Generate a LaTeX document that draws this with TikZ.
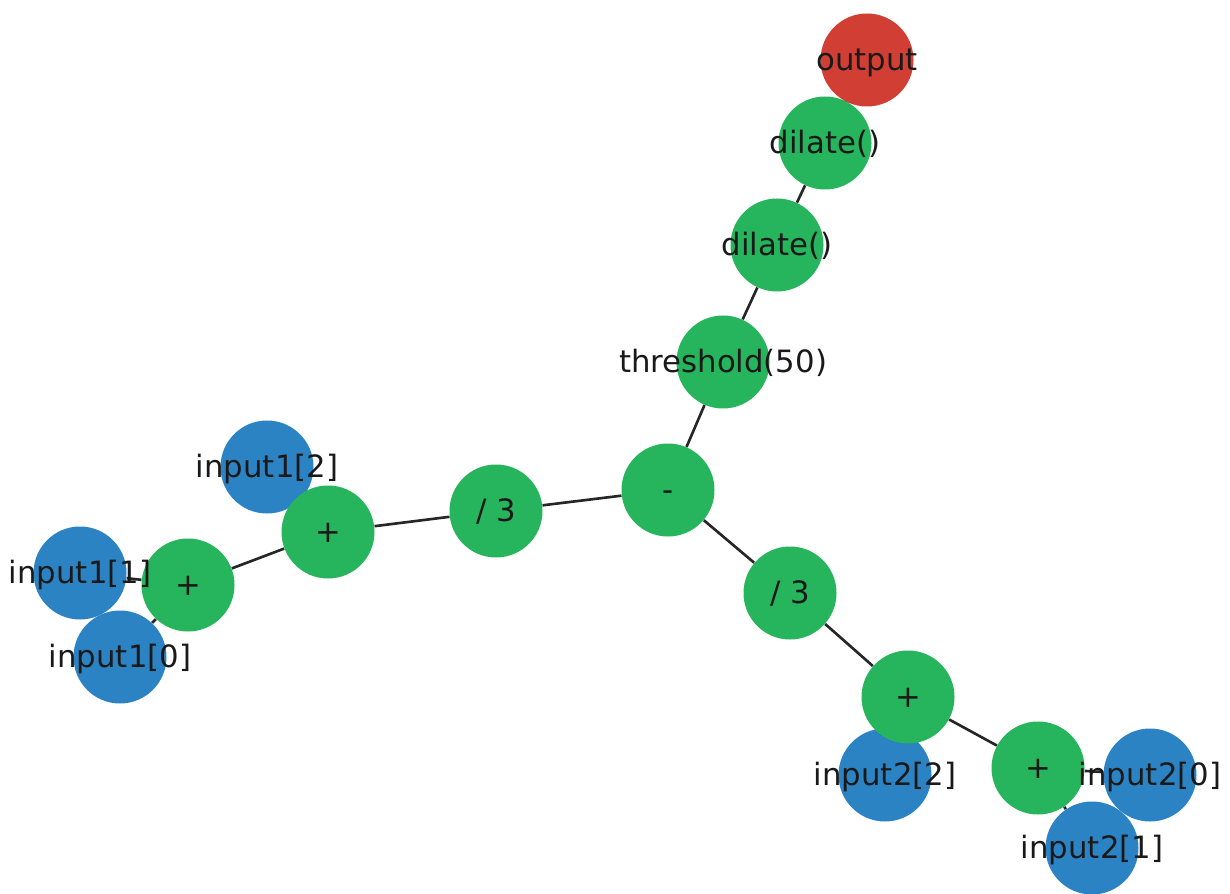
\documentclass[tikz,border=0pt]{standalone}
\usepackage{fontspec}
\setmainfont{DejaVu Sans}
\pgfdeclarelayer{background}
\pgfdeclarelayer{foreground}
\pgfsetlayers{background,main,foreground}
\definecolor{opgreen}{RGB}{38,180,92}
\definecolor{inblue}{RGB}{44,131,196}
\definecolor{outred}{RGB}{208,62,52}
\begin{document}
\begin{tikzpicture}[
    op/.style={circle,fill=opgreen,minimum size=1.86cm,inner sep=0pt},
    inp/.style={op,fill=inblue},
    res/.style={op,fill=outred},
    edge/.style={line width=1.5pt,black!85},
    lbl/.style={font=\fontsize{17.5}{21}\selectfont,inner sep=0pt,text height=0.76em,text depth=0.24em,yshift=-0.11cm,text=black!90}]
            \useasboundingbox (0,0) rectangle (24.6,17.86);
            \node[res] (out) at (17.34,16.66) {};
            \node[op] (dil2) at (16.50,15.00) {};
            \node[op] (dil1) at (15.54,12.96) {};
            \node[op] (thr) at (14.46,10.62) {};
            \node[op] (sub) at (13.36,8.06) {};
            \node[op] (divA) at (9.92,7.64) {};
            \node[inp] (inA2) at (5.34,8.52) {};
            \node[op] (addA2) at (6.56,7.22) {};
            \node[inp] (inA1) at (1.60,6.40) {};
            \node[inp] (inA0) at (2.40,4.72) {};
            \node[op] (addA1) at (3.76,6.16) {};
            \node[op] (divB) at (15.80,6.00) {};
            \node[inp] (inB2) at (17.70,2.36) {};
            \node[op] (addB2) at (18.16,3.92) {};
            \node[inp] (inB0) at (23.00,2.36) {};
            \node[inp] (inB1) at (21.84,0.90) {};
            \node[op] (addB1) at (20.76,2.50) {};

            \begin{pgfonlayer}{background}
            \draw[edge] (out) to (dil2); \draw[edge] (dil2) to (dil1); \draw[edge] (dil1) to (thr); \draw[edge] (thr) to (sub);
            \draw[edge] (sub) to (divA); \draw[edge] (divA) to (addA2); \draw[edge] (addA2) to (inA2); \draw[edge] (addA2) to (addA1);
            \draw[edge] (addA1) to (inA1); \draw[edge] (addA1) to (inA0);
            \draw[edge] (sub) to (divB); \draw[edge] (divB) to (addB2); \draw[edge] (addB2) to (inB2); \draw[edge] (addB2) to (addB1);
            \draw[edge] (addB1) to (inB0); \draw[edge] (addB1) to (inB1);
            \end{pgfonlayer}

            \begin{pgfonlayer}{foreground}
            \node[lbl] (outT) at (out) {output};
            \node[lbl] (dil2T) at (dil2) {dilate()};
            \node[lbl] (dil1T) at (dil1) {dilate()};
            \node[lbl] (thrT) at (thr) {threshold(50)};
            \node[lbl] (subT) at (sub) {-};
            \node[lbl] (divAT) at (divA) {/ 3};
            \node[lbl] (addA2T) at (addA2) {+};
            \node[lbl] (inA2T) at (inA2) {input1[2]};
            \node[lbl] (addA1T) at (addA1) {+};
            \node[lbl] (inA1T) at (inA1) {input1[1]};
            \node[lbl] (inA0T) at (inA0) {input1[0]};
            \node[lbl] (divBT) at (divB) {/ 3};
            \node[lbl] (addB2T) at (addB2) {+};
            \node[lbl] (inB2T) at (inB2) {input2[2]};
            \node[lbl] (addB1T) at (addB1) {+};
            \node[lbl] (inB0T) at (inB0) {input2[0]};
            \node[lbl] (inB1T) at (inB1) {input2[1]};
            \end{pgfonlayer}
        \end{tikzpicture}
\end{document}
